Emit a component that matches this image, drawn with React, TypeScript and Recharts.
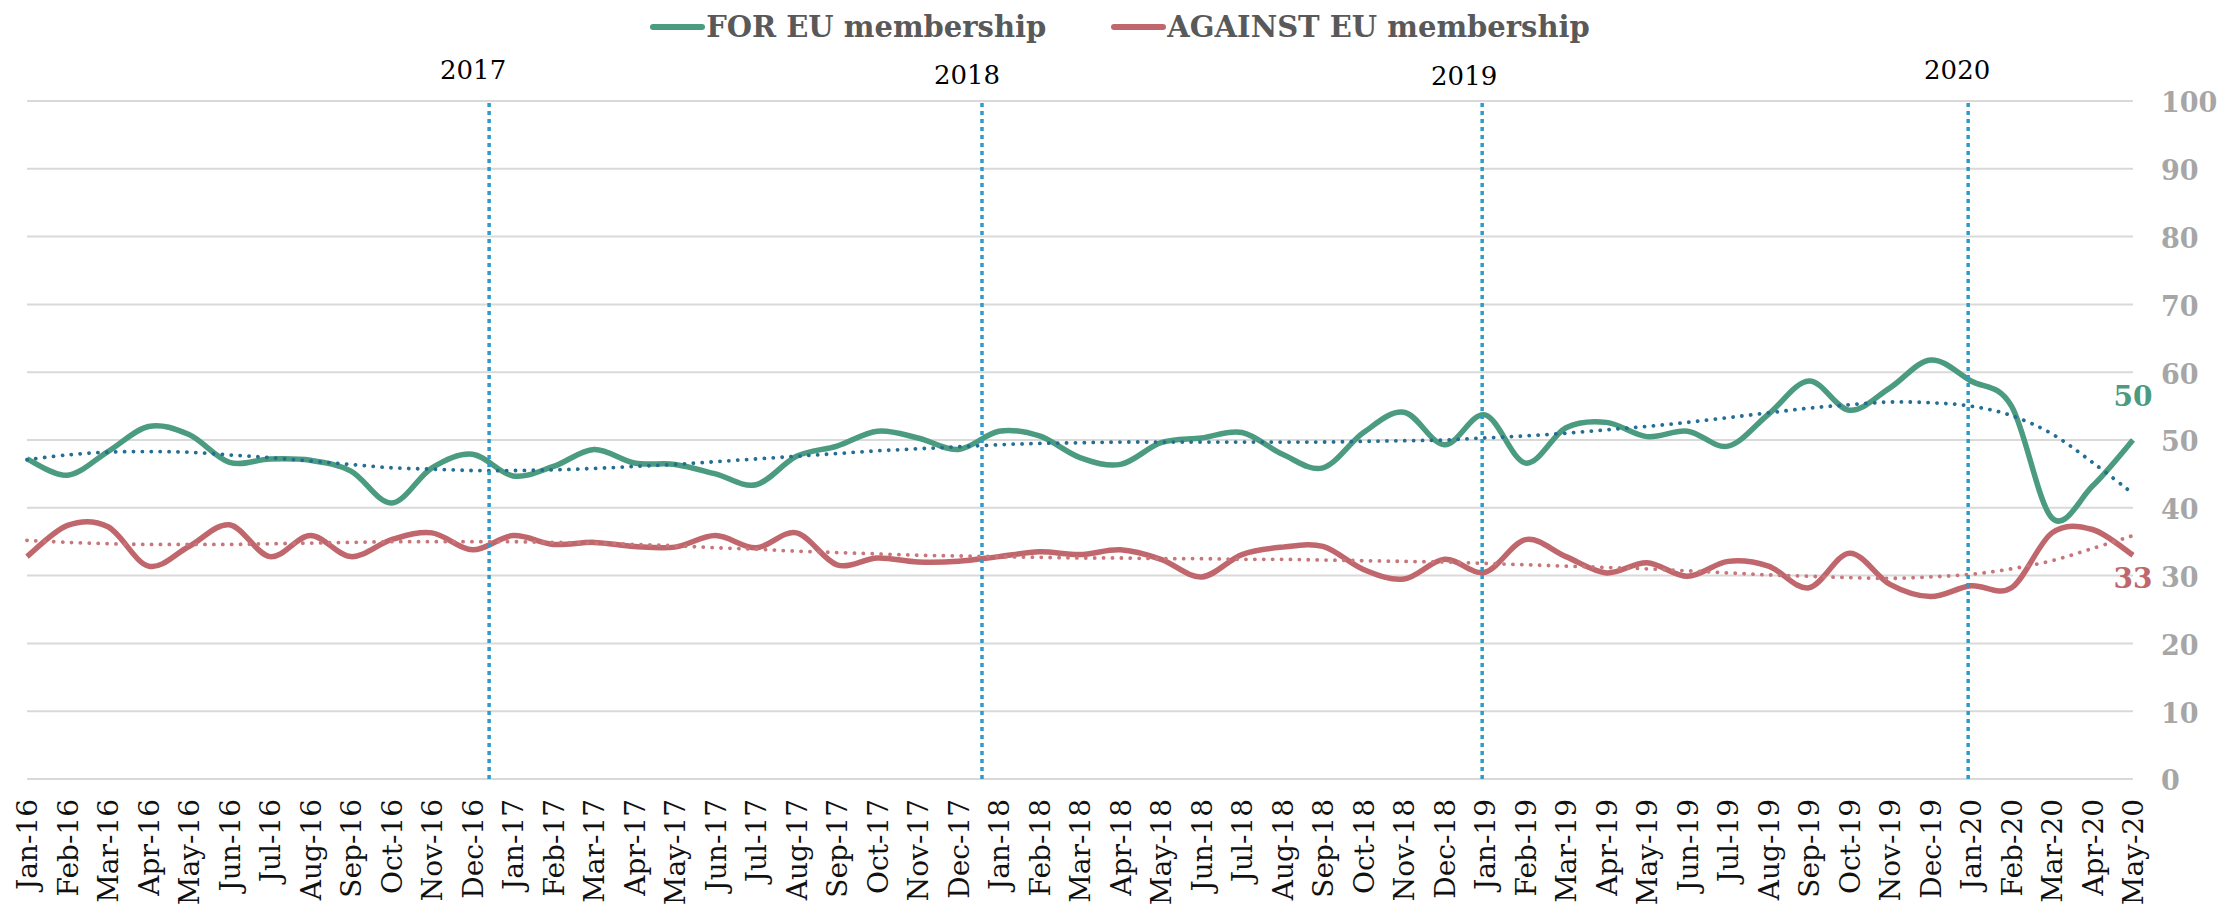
import React from 'react';
import {
  LineChart, Line, XAxis, YAxis, CartesianGrid, ReferenceLine, Legend,
} from 'recharts';

const MONTHS = [
  'Jan-16','Feb-16','Mar-16','Apr-16','May-16','Jun-16','Jul-16','Aug-16','Sep-16','Oct-16','Nov-16','Dec-16',
  'Jan-17','Feb-17','Mar-17','Apr-17','May-17','Jun-17','Jul-17','Aug-17','Sep-17','Oct-17','Nov-17','Dec-17',
  'Jan-18','Feb-18','Mar-18','Apr-18','May-18','Jun-18','Jul-18','Aug-18','Sep-18','Oct-18','Nov-18','Dec-18',
  'Jan-19','Feb-19','Mar-19','Apr-19','May-19','Jun-19','Jul-19','Aug-19','Sep-19','Oct-19','Nov-19','Dec-19',
  'Jan-20','Feb-20','Mar-20','Apr-20','May-20',
];

const FOR_EU = [
  47.2, 44.8, 48.3, 52.0, 50.8, 46.7, 47.2, 47.0, 45.4, 40.7, 45.9, 47.9,
  44.7, 46.1, 48.6, 46.6, 46.4, 45.0, 43.4, 47.6, 49.1, 51.3, 50.3, 48.6,
  51.3, 50.6, 47.4, 46.4, 49.6, 50.3, 51.1, 47.9, 45.9, 51.1, 54.1, 49.3,
  53.7, 46.6, 51.8, 52.6, 50.5, 51.3, 49.1, 53.8, 58.7, 54.4, 57.7, 61.8,
  58.7, 55.0, 38.5, 43.2, 50,
];

const AGAINST_EU = [
  32.8, 37.4, 37.2, 31.4, 34.3, 37.5, 32.8, 35.9, 32.8, 35.3, 36.3, 33.8,
  35.9, 34.6, 34.9, 34.3, 34.2, 35.9, 34.1, 36.3, 31.6, 32.6, 32.0, 32.1,
  32.8, 33.5, 33.1, 33.8, 32.4, 29.8, 33.1, 34.2, 34.3, 30.9, 29.5, 32.4,
  30.5, 35.3, 32.8, 30.4, 31.9, 29.9, 32.1, 31.4, 28.2, 33.3, 28.7, 26.9,
  28.5, 28.2, 36.3, 36.8, 33,
];

const FOR_TREND = [
  47.1, 47.8, 48.2, 48.3, 48.2, 47.8, 47.4, 46.9, 46.4, 45.9, 45.7, 45.5,
  45.5, 45.6, 45.8, 46.1, 46.4, 46.8, 47.2, 47.6, 48.0, 48.4, 48.7, 49.0,
  49.3, 49.5, 49.6, 49.7, 49.7, 49.7, 49.7, 49.7, 49.7, 49.8, 49.9, 50.0,
  50.3, 50.6, 51.0, 51.5, 52.0, 52.6, 53.3, 54.0, 54.7, 55.2, 55.6, 55.5,
  55.0, 53.6, 50.9, 46.7, 42.1,
];

const AGAINST_TREND = [
  35.2, 34.9, 34.7, 34.6, 34.6, 34.6, 34.7, 34.8, 34.9, 35.0, 35.0, 35.0,
  35.0, 34.9, 34.8, 34.6, 34.4, 34.1, 33.9, 33.6, 33.4, 33.2, 33.0, 32.9,
  32.8, 32.7, 32.6, 32.6, 32.5, 32.5, 32.4, 32.4, 32.3, 32.2, 32.1, 32.0,
  31.8, 31.6, 31.4, 31.2, 31.0, 30.7, 30.4, 30.1, 29.9, 29.7, 29.6, 29.8,
  30.2, 31.0, 32.2, 34.0, 35.9,
];

const Y_TICKS = [0, 10, 20, 30, 40, 50, 60, 70, 80, 90, 100];

const SERIES_NAMES = ['FOR EU membership', 'AGAINST EU membership'];

// Year boundary markers (position on the month axis)
const YEAR_MARKS = [
  { year: '2017', at: 11.41 },
  { year: '2018', at: 23.58 },
  { year: '2019', at: 35.93 },
  { year: '2020', at: 47.93 },
];
const YEAR_LABEL_STYLE = [
  { dx: -16, baseline: 79 },
  { dx: -15, baseline: 84 },
  { dx: -18, baseline: 85 },
  { dx: -11, baseline: 79 },
];

const GREEN = '#4A9B7F';
const RED = '#C0676D';
const TREND_BLUE = '#236E92';
const TREND_RED = '#C9767B';
const YEAR_BLUE = '#2E9BC9';
const SERIF = '"DejaVu Serif", Georgia, serif';

const data = MONTHS.map((m, i) => ({
  i,
  month: m,
  forEU: FOR_EU[i],
  againstEU: AGAINST_EU[i],
  forTrend: FOR_TREND[i],
  againstTrend: AGAINST_TREND[i],
}));

// Excel-like smoothed line (Catmull-Rom through the points)
const excelSmooth: any = (context: any) => {
  let xs: number[] = [];
  let ys: number[] = [];
  return {
    areaStart() {},
    areaEnd() {},
    lineStart() { xs = []; ys = []; },
    point(x: number, y: number) { xs.push(+x); ys.push(+y); },
    lineEnd() {
      const n = xs.length;
      if (!n) return;
      context.moveTo(xs[0], ys[0]);
      for (let k = 0; k < n - 1; k++) {
        const a = Math.max(k - 1, 0);
        const d = Math.min(k + 2, n - 1);
        context.bezierCurveTo(
          xs[k] + (xs[k + 1] - xs[a]) / 6, ys[k] + (ys[k + 1] - ys[a]) / 6,
          xs[k + 1] - (xs[d] - xs[k]) / 6, ys[k + 1] - (ys[d] - ys[k]) / 6,
          xs[k + 1], ys[k + 1],
        );
      }
    },
  };
};

const XTick = (props: any) => {
  const { x, y, payload } = props;
  return (
    <g transform={`translate(${x},${y}) rotate(-90)`}>
      <text x={0} y={0} dy="0.36em" textAnchor="end" fontFamily={SERIF} fontSize={28} fill="#111">
        {MONTHS[payload.value]}
      </text>
    </g>
  );
};

const YTick = (props: any) => {
  const { x, y, payload } = props;
  return (
    <text x={x} y={y} dy="0.42em" textAnchor="start" fontFamily={SERIF} fontWeight="bold" fontSize={27} fill="#A6A6A6">
      {payload.value}
    </text>
  );
};

const makeYearLabel = (idx: number) => (props: any) => {
  const vb = props.viewBox || {};
  const st = YEAR_LABEL_STYLE[idx];
  return (
    <text x={(vb.x ?? 0) + st.dx} y={st.baseline} textAnchor="middle" fontFamily={SERIF} fontSize={26} fill="#000">
      {YEAR_MARKS[idx].year}
    </text>
  );
};

const makeEndLabel = (color: string, offset: number) => (props: any) => {
  const { x, y, index, value } = props;
  if (index !== MONTHS.length - 1) return null;
  return (
    <text x={x} y={y + offset} textAnchor="middle" fontFamily={SERIF} fontWeight="bold" fontSize={28} fill={color}>
      {value}
    </text>
  );
};

const LegendContent = (props: any) => {
  const items = (props.payload || [])
    .filter((p: any) => p.type !== 'none' && SERIES_NAMES.includes(p.value))
    .sort((a: any, b: any) => SERIES_NAMES.indexOf(a.value) - SERIES_NAMES.indexOf(b.value));
  return (
    <div style={{ display: 'flex', justifyContent: 'center', alignItems: 'center', height: 40, gap: 65, paddingLeft: 16 }}>
      {items.map((it: any) => (
        <div key={it.value} style={{ display: 'flex', alignItems: 'center' }}>
          <span style={{ display: 'inline-block', width: 55, height: 6, borderRadius: 3, background: it.color }} />
          <span style={{ fontFamily: SERIF, fontWeight: 'bold', fontSize: 29, color: '#595959', marginLeft: 1 }}>
            {it.value}
          </span>
        </div>
      ))}
    </div>
  );
};

export default function App() {
  return (
    <div style={{ position: 'absolute', left: 0, top: 0, width: 2224, height: 910, background: '#fff' }}>
      <LineChart width={2224} height={910} data={data} margin={{ top: 61, right: 0, bottom: 0, left: 27 }}>
        <CartesianGrid vertical={false} stroke="#D9D9D9" strokeWidth={2} />
        <XAxis
          dataKey="i"
          type="number"
          domain={[0, 52]}
          ticks={MONTHS.map((_, i) => i)}
          interval={0}
          axisLine={false}
          tickLine={false}
          tickSize={6}
          tickMargin={14}
          height={131}
          tick={<XTick />}
          allowDecimals={false}
        />
        <YAxis
          orientation="right"
          domain={[0, 100]}
          ticks={Y_TICKS}
          axisLine={false}
          tickLine={false}
          tickSize={20}
          tickMargin={8}
          width={91}
          tick={<YTick />}
          interval={0}
        />
        <Legend verticalAlign="top" content={<LegendContent />} wrapperStyle={{ top: 7, left: 0, width: 2224 }} />
        <Line
          dataKey="forEU"
          name="FOR EU membership"
          stroke={GREEN}
          strokeWidth={5.5}
          type={excelSmooth}
          dot={false}
          activeDot={false}
          isAnimationActive={false}
          label={makeEndLabel(GREEN, -34)}
        />
        <Line
          dataKey="againstEU"
          name="AGAINST EU membership"
          stroke={RED}
          strokeWidth={5.5}
          type={excelSmooth}
          dot={false}
          activeDot={false}
          isAnimationActive={false}
          label={makeEndLabel(RED, 33)}
        />
        <Line
          dataKey="forTrend"
          stroke={TREND_BLUE}
          strokeWidth={3.8}
          strokeDasharray="0.1 8.8"
          strokeLinecap="round"
          type={excelSmooth}
          dot={false}
          activeDot={false}
          legendType="none"
          isAnimationActive={false}
        />
        <Line
          dataKey="againstTrend"
          stroke={TREND_RED}
          strokeWidth={3.8}
          strokeDasharray="0.1 8.8"
          strokeLinecap="round"
          type={excelSmooth}
          dot={false}
          activeDot={false}
          legendType="none"
          isAnimationActive={false}
        />
        {YEAR_MARKS.map((m, idx) => (
          <ReferenceLine
            key={m.year}
            x={m.at}
            stroke={YEAR_BLUE}
            strokeWidth={3.5}
            strokeDasharray="4 4"
            label={makeYearLabel(idx)}
          />
        ))}
      </LineChart>
    </div>
  );
}
